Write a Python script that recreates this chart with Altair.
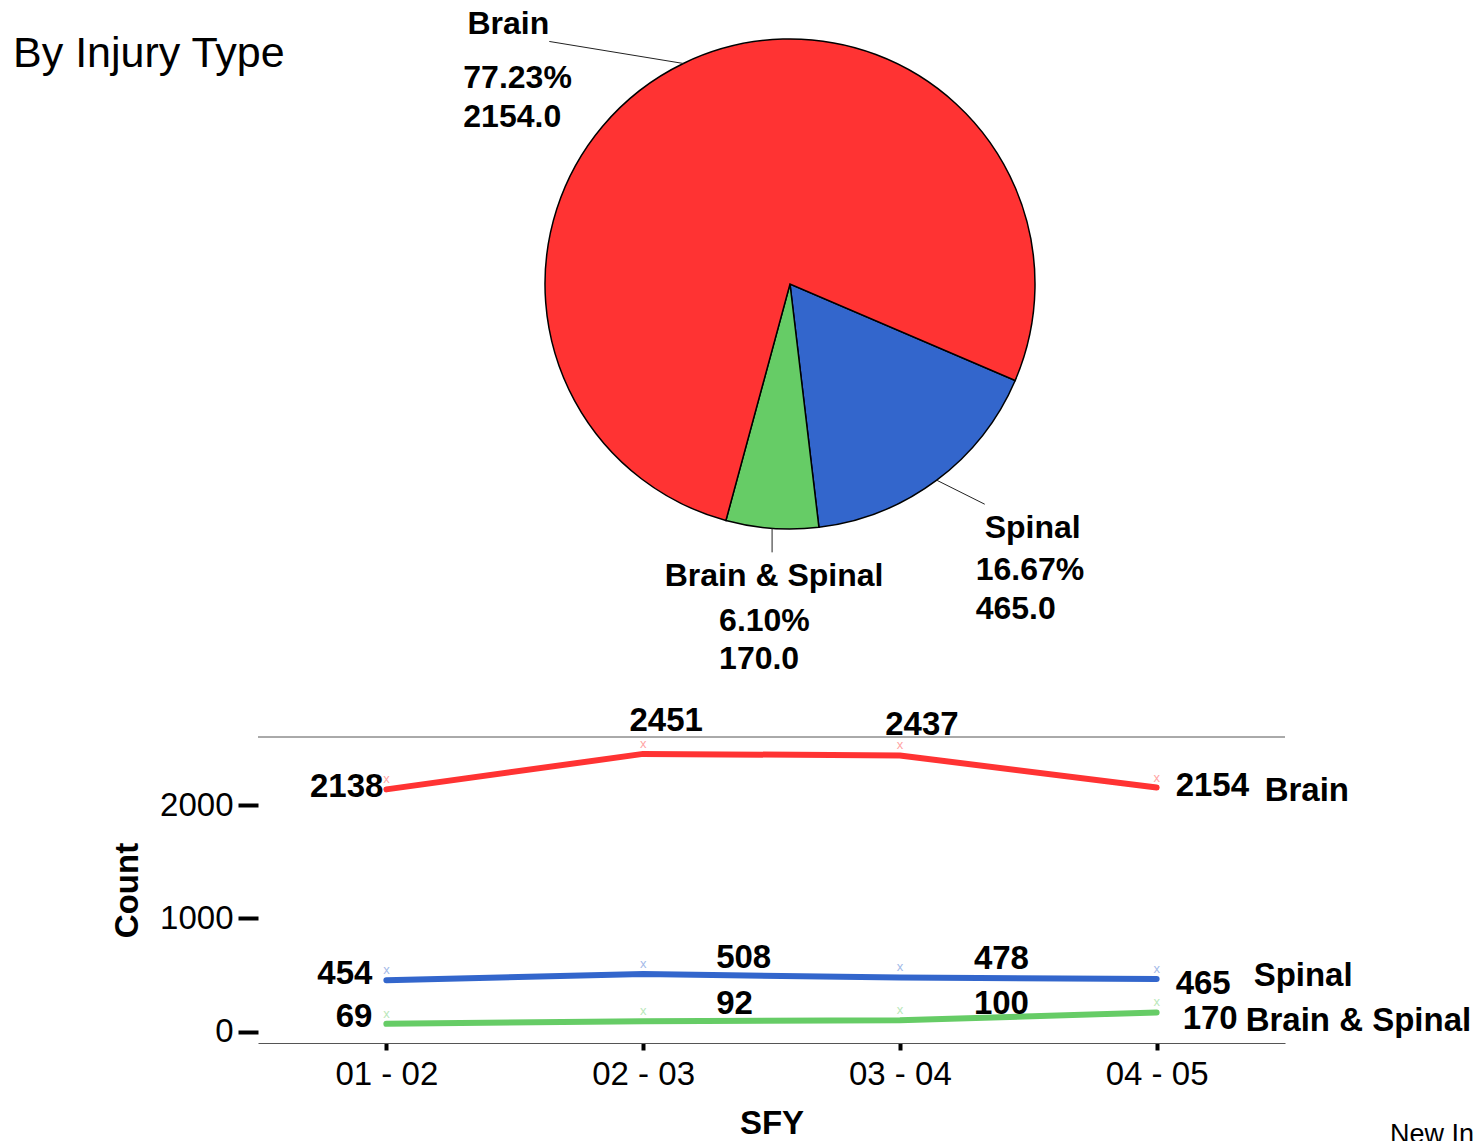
import altair as alt
import pandas as pd
import numpy as np

# ---------------- data ----------------
pie_categories = ["Spinal", "Brain & Spinal", "Brain"]
pie_counts = [465, 170, 2154]

sfy_labels = ["01 - 02", "02 - 03", "03 - 04", "04 - 05"]
series_names = ["Brain", "Spinal", "Brain & Spinal"]
brain_counts = [2138, 2451, 2437, 2154]
spinal_counts = [454, 508, 478, 465]
both_counts = [69, 92, 100, 170]

color_domain = ["Brain", "Spinal", "Brain & Spinal"]
color_range = ["#FF3333", "#3366CC", "#66CC66"]

FONT = "Liberation Sans"

# ---------------- pie panel geometry (page pixel frame) ----------------
PX0, PX1 = 258, 1322
PY0, PY1 = 8, 558
CX, CY = (PX0 + PX1) / 2, (PY0 + PY1) / 2
R = 245
START_DEG = 113.2
start_rad = np.radians(START_DEG)

# label layout (offsets, pixels)
leader_off = {"Brain": (-134, -22), "Spinal": (48, 24), "Brain & Spinal": (0, 24)}
name_off = {"Brain": (-41, -17), "Spinal": (48, 24), "Brain & Spinal": (2, 24)}
value_off = {"Brain": (-86, 37, 76), "Spinal": (-9, 66, 105), "Brain & Spinal": (-53, 69, 107)}

total = sum(pie_counts)
cum = np.cumsum([0] + pie_counts[:-1])
mid = start_rad + 2 * np.pi * (cum + np.array(pie_counts) / 2) / total

rows = []
for i, (c, n) in enumerate(zip(pie_categories, pie_counts)):
    ax = CX + R * np.sin(mid[i])
    ay = CY - R * np.cos(mid[i])
    ex = ax + leader_off[c][0]
    ey = ay + leader_off[c][1]
    rows.append(dict(
        cat=c, count=n, order=i, ax=ax, ay=ay, ex=ex, ey=ey,
        nx=ex + name_off[c][0], ny=ey + name_off[c][1],
        vx=ex + value_off[c][0], py=ey + value_off[c][1], cy=ey + value_off[c][2],
        pct=f"{100 * n / total:.2f}%", cnt=f"{n:.1f}",
    ))
df_pie = pd.DataFrame(rows)

W_TOP = PX1 - PX0
H_TOP = PY1 - PY0
xs = alt.Scale(domain=[PX0, PX1], nice=False, zero=False)
ys = alt.Scale(domain=[PY0, PY1], nice=False, zero=False, reverse=True)

arcs = alt.Chart(df_pie).mark_arc(outerRadius=R, stroke="black", strokeWidth=1.5).encode(
    theta=alt.Theta("count:Q", stack=True, scale=alt.Scale(range=[start_rad, start_rad + 2 * np.pi])),
    color=alt.Color("cat:N", scale=alt.Scale(domain=color_domain, range=color_range), legend=None),
    order=alt.Order("order:Q"),
)

leaders = alt.Chart(df_pie).mark_rule(color="#222", strokeWidth=1).encode(
    x=alt.X("ax:Q", scale=xs, axis=None),
    y=alt.Y("ay:Q", scale=ys, axis=None),
    x2="ex:Q", y2="ey:Q",
)

txt = dict(font=FONT, fontSize=32, fontWeight="bold", color="black", baseline="middle")
txt_line = dict(txt, fontSize=33)
names = alt.Chart(df_pie).mark_text(align="center", **txt).encode(
    x=alt.X("nx:Q", scale=xs, axis=None), y=alt.Y("ny:Q", scale=ys, axis=None), text="cat:N")
pcts = alt.Chart(df_pie).mark_text(align="left", **txt).encode(
    x=alt.X("vx:Q", scale=xs, axis=None), y=alt.Y("py:Q", scale=ys, axis=None), text="pct:N")
cnts = alt.Chart(df_pie).mark_text(align="left", **txt).encode(
    x=alt.X("vx:Q", scale=xs, axis=None), y=alt.Y("cy:Q", scale=ys, axis=None), text="cnt:N")

title = alt.Chart(pd.DataFrame({"t": ["By Injury Type"]})).mark_text(
    align="left", baseline="middle", font=FONT, fontSize=43, color="black"
).encode(x=alt.value(13 - PX0), y=alt.value(53 - PY0), text="t:N")

top = alt.layer(arcs, leaders, names, pcts, cnts, title).properties(width=W_TOP, height=H_TOP)

# ---------------- line panel ----------------
W_B, H_B = 1027, 306
recs = []
for s, vals in zip(series_names, [brain_counts, spinal_counts, both_counts]):
    for i, (lab, v) in enumerate(zip(sfy_labels, vals)):
        recs.append(dict(SFY=lab, series=s, count=v, idx=i))
df_line = pd.DataFrame(recs)

xenc = alt.X("SFY:N", sort=sfy_labels, scale=alt.Scale(type="point", padding=0.5),
             axis=alt.Axis(title="SFY", labelAngle=0, labelFont=FONT, labelFontSize=33, labelColor="black",
                           labelPadding=8, tickColor="black", tickWidth=4, tickSize=7,
                           domainColor="#555", domainWidth=1, grid=False,
                           titleFont=FONT, titleFontSize=33, titleFontWeight="bold", titleColor="black",
                           titlePadding=16))
yenc = alt.Y("count:Q", scale=alt.Scale(domain=[-100, 2600], nice=False, zero=False),
             axis=alt.Axis(title="Count", values=[0, 1000, 2000], format="d", labelFont=FONT, labelFontSize=33,
                           labelColor="black", labelPadding=5, tickColor="black", tickWidth=4, tickSize=20,
                           domain=False, grid=False, titleFont=FONT, titleFontSize=33,
                           titleFontWeight="bold", titleColor="black", titlePadding=15))
cenc = alt.Color("series:N", scale=alt.Scale(domain=color_domain, range=color_range), legend=None)

base = alt.Chart(df_line)
lines = base.mark_line(strokeWidth=6, strokeCap="round", strokeJoin="round").encode(x=xenc, y=yenc, color=cenc)
marks = base.mark_text(text="x", fontSize=13, dy=-10, opacity=0.45, font=FONT).encode(x=xenc, y=yenc, color=cenc)

label_layout = {
    ("Brain", 0): ("right", -3, -2), ("Spinal", 0): ("right", -14, -6), ("Brain & Spinal", 0): ("right", -14, -7),
    ("Brain", 1): ("center", 23, -33), ("Spinal", 1): ("left", 73, -16), ("Brain & Spinal", 1): ("left", 73, -17),
    ("Brain", 2): ("center", 22, -30), ("Spinal", 2): ("left", 74, -18), ("Brain & Spinal", 2): ("left", 74, -16),
    ("Brain", 3): ("left", 19, -2), ("Spinal", 3): ("left", 19, 5), ("Brain & Spinal", 3): ("left", 26, 7),
}
name_layout = {"Brain": (108, 3), "Spinal": (97, -3), "Brain & Spinal": (89, 9)}

layers = [lines, marks]
for (s, i), (al, dx, dy) in label_layout.items():
    layers.append(
        base.transform_filter((alt.datum.series == s) & (alt.datum.idx == i))
        .mark_text(align=al, dx=dx, dy=dy, **txt_line)
        .encode(x=xenc, y=yenc, text="count:Q")
    )
for s, (dx, dy) in name_layout.items():
    layers.append(
        base.transform_filter((alt.datum.series == s) & (alt.datum.idx == 3))
        .mark_text(align="left", dx=dx, dy=dy, **txt_line)
        .encode(x=xenc, y=yenc, text="series:N")
    )

frame_top = alt.Chart(pd.DataFrame({"a": [0]})).mark_rule(color="#555", strokeWidth=1).encode(
    x=alt.value(0), x2=alt.value(W_B), y=alt.value(0))
note = alt.Chart(pd.DataFrame({"t": ["New Injuries"]})).mark_text(
    align="left", baseline="alphabetic", font=FONT, fontSize=27, color="black",
    limit=86, ellipsis="\u200b"
).encode(x=alt.value(1390 - 258), y=alt.value(1142 - 736), text="t:N")
layers += [frame_top, note]

bottom = alt.layer(*layers).properties(width=W_B, height=H_B)

chart = alt.vconcat(top, bottom, spacing=28).properties(
    padding={"left": 5, "top": 0, "right": 0, "bottom": 0}
).configure_view(stroke=None)

chart.save("out.html", embed_options={"renderer": "svg", "actions": False})
